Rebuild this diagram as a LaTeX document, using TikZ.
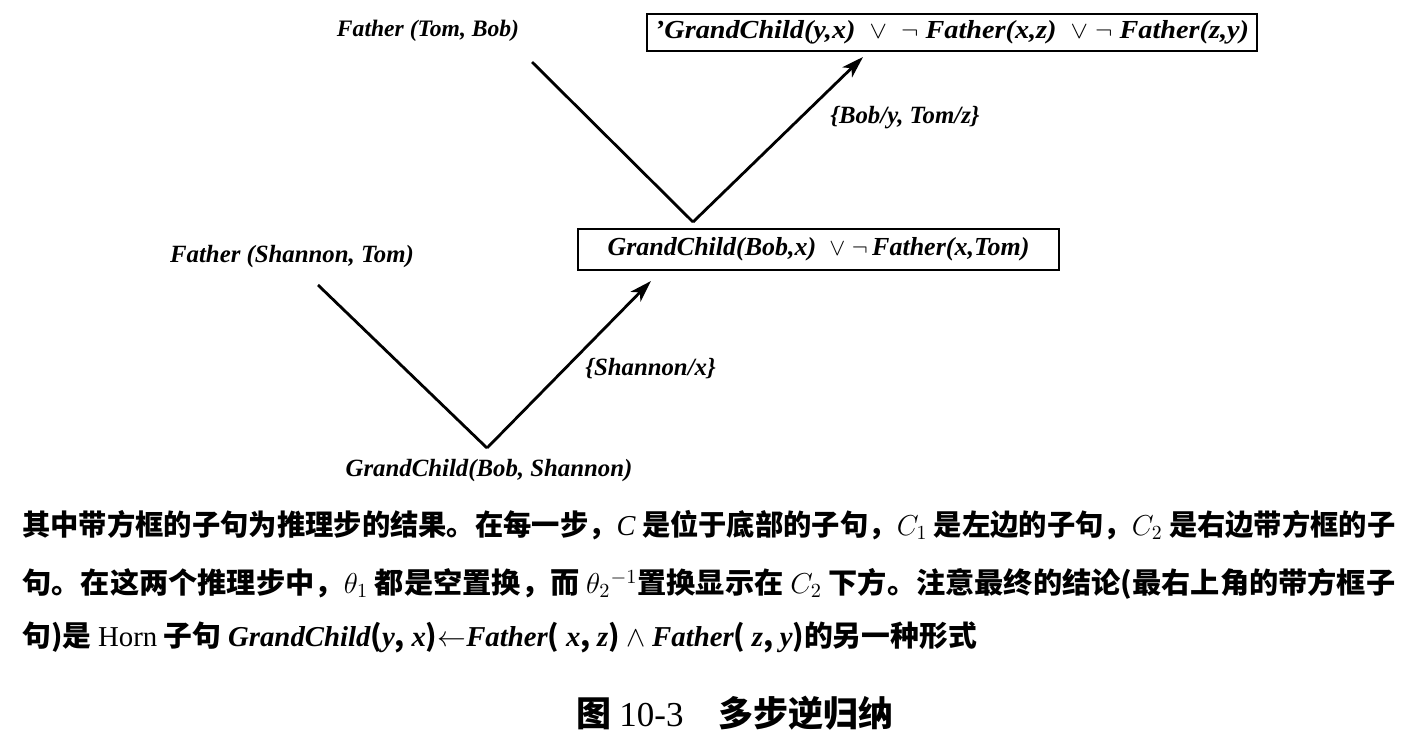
\documentclass[tikz,border=0pt]{standalone}
\usepackage{fontspec}
\usepackage{graphicx}
\setmainfont{Liberation Serif}
\newfontfamily\cjk{Noto Sans CJK SC}
\usetikzlibrary{arrows.meta}
\newcommand{\fitline}[1]{\resizebox{686.5pt}{\height}{#1}}
\begin{document}
\begin{tikzpicture}[x=0.5pt,y=-0.5pt,
  lbl/.style={font=\fontsize{12.4}{14}\selectfont\bfseries\itshape, inner sep=0pt},
  clause/.style={font=\fontsize{13}{15}\selectfont\bfseries\itshape, draw, line width=1.2pt, inner sep=0pt},
  edge/.style={line width=1.4pt},
  arr/.style={edge, -{Stealth[length=11pt,width=7pt,inset=3pt]}},
  para/.style={font=\fontsize{14.4}{16}\selectfont\cjk\bfseries, anchor=west, inner sep=0pt},
  capt/.style={font=\fontsize{17.5}{19}\selectfont\cjk\bfseries, inner sep=0pt}]
\useasboundingbox (0,0) rectangle (1412,733);
\fill[white] (0,0) rectangle (1412,733);

% labels and clauses
\node[lbl, font=\fontsize{11.8}{14}\selectfont\bfseries\itshape] (ftb) at (428,31) {Father (Tom, Bob)};
\node[clause, minimum width=305pt, minimum height=18.5pt] (top) at (952,32.5)
  {\resizebox{297pt}{\height}{'GrandChild(y,x)\ \ $\vee$\ \ $\neg$\ Father(x,z)\ \ $\vee$\ $\neg$\ Father(z,y)}};
\node[lbl] (fst) at (292,257) {Father (Shannon, Tom)};
\node[clause, minimum width=240.5pt, minimum height=20.5pt] (mid) at (818.5,249.5)
  {GrandChild(Bob,x)\ \ $\vee$\ $\neg$\,Father(x,Tom)};
\node[lbl] (gbs) at (489,471) {GrandChild(Bob, Shannon)};
\node[lbl, anchor=west] (s1) at (830,118) {\{Bob/y, Tom/z\}};
\node[lbl, anchor=west] (s2) at (585,369) {\{Shannon/x\}};

% connectors
\coordinate (l1s) at (532,62);
\coordinate (v1) at (693,222);
\coordinate (a1e) at (863,57);
\coordinate (l2s) at (318,285);
\coordinate (v2) at (487,448);
\coordinate (a2e) at (651,281);
\draw[edge] (l1s) -- (v1);
\draw[arr] (v1) -- (a1e);
\draw[edge] (l2s) -- (v2);
\draw[arr] (v2) -- (a2e);

% paragraph
\node[para] (p1) at (22,525) {\fitline{其中带方框的子句为推理步的结果。在每一步，{\rmfamily\mdseries\itshape C} 是位于底部的子句，$C_1$ 是左边的子句，$C_2$ 是右边带方框的子}};
\node[para] (p2) at (22,584) {\fitline{句。在这两个推理步中，$\theta_1$ 都是空置换，而 $\theta_2{}^{-1}$置换显示在 $C_2$ 下方。注意最终的结论(最右上角的带方框子}};
\node[para] (p3) at (22,637) {句)是 {\rmfamily\mdseries Horn} 子句 {\rmfamily\itshape GrandChild}({\rmfamily\itshape y}, {\rmfamily\itshape x})$\leftarrow${\rmfamily\itshape Father}( {\rmfamily\itshape x}, {\rmfamily\itshape z}) $\wedge$ {\rmfamily\itshape Father}( {\rmfamily\itshape z}, {\rmfamily\itshape y})的另一种形式};

\node[capt] (cap) at (735,713) {图 {\rmfamily\mdseries 10-3}\quad 多步逆归纳};
\end{tikzpicture}
\end{document}
